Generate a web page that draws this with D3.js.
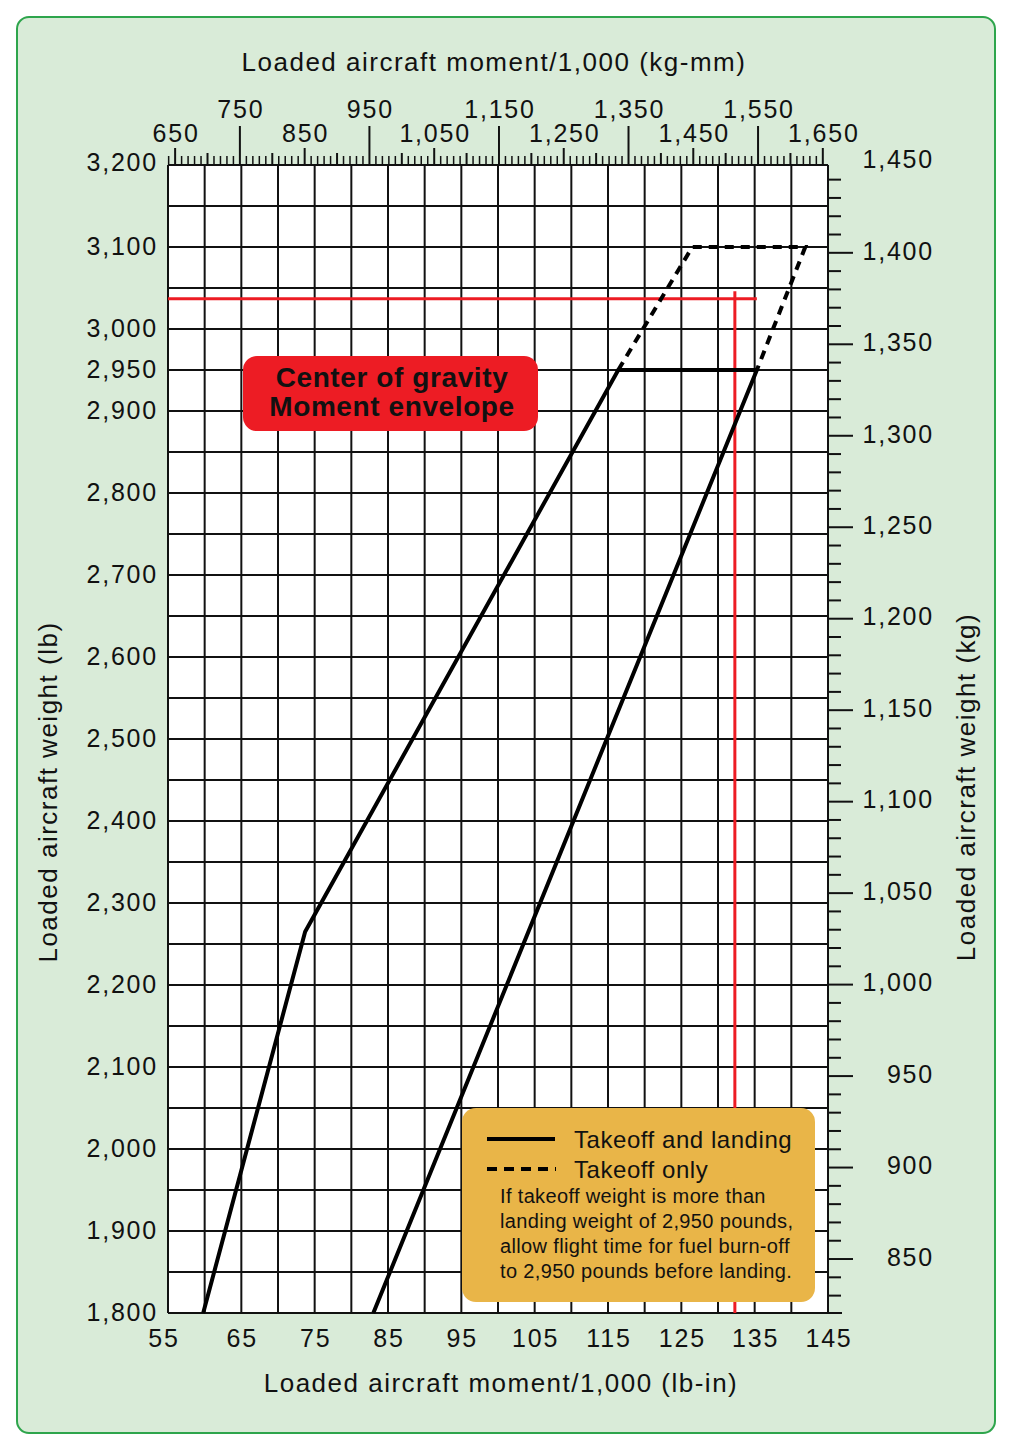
<!DOCTYPE html>
<html>
<head>
<meta charset="utf-8">
<script src="https://cdn.jsdelivr.net/npm/d3@7"></script>
<style>
  body { margin: 0; background: #fff; }
  text { font-family: "Liberation Sans", Arial, sans-serif; fill: #111; }
  .tick-label { font-size: 25px; letter-spacing: 1.8px; }
  .axis-title { font-size: 26px; letter-spacing: 1.5px; }
</style>
</head>
<body>
<div id="chart_div"></div>
<script>
// values
const lbInTicks = [55, 65, 75, 85, 95, 105, 115, 125, 135, 145];
const lbTicks = [1800, 1900, 2000, 2100, 2200, 2300, 2400, 2500, 2600, 2700, 2800, 2900, 2950, 3000, 3100, 3200];
const kgTicks = [850, 900, 950, 1000, 1050, 1100, 1150, 1200, 1250, 1300, 1350, 1400, 1450];
const kgMmLower = [650, 850, 1050, 1250, 1450, 1650];
const kgMmUpper = [750, 950, 1150, 1350, 1550];

// envelope corners [moment lb-in/1000, weight lb]
const takeoffLanding = [[59.8, 1800], [73.7, 2265], [116.4, 2950], [135.3, 2950], [83, 1800]];
const takeoffOnly = [[116.4, 2950], [126.5, 3100], [141.9, 3100], [135.3, 2950]];

// worked example (red lines)
const exampleWeight = 3037;
const exampleMoment = 132.3;

const noteLines = [
    "If takeoff weight is more than",
    "landing weight of 2,950 pounds,",
    "allow flight time for fuel burn-off",
    "to 2,950 pounds before landing."
];

const svgWidth = 1012;
const svgHeight = 1451;
const plot = {left: 168, right: 828, top: 165, bottom: 1313};

const svg = d3.select("#chart_div")
    .append("svg")
    .attr("width", svgWidth)
    .attr("height", svgHeight);

// panel background
svg.append("rect")
    .attr("x", 17).attr("y", 17)
    .attr("width", 978).attr("height", 1416)
    .attr("rx", 12)
    .attr("fill", "#d9ebd8")
    .attr("stroke", "#2ea54c")
    .attr("stroke-width", 2);

let xScale = d3.scaleLinear().domain([55, 145]).range([plot.left, plot.right]);
let yScale = d3.scaleLinear().domain([1800, 3200]).range([plot.bottom, plot.top]);
// secondary (metric) scales, matched to where the chart puts them
let kgMmScale = d3.scaleLinear().domain([639, 1658]).range([plot.left, plot.right]);
let kgScale = d3.scaleLinear().domain([820.5, 1448]).range([plot.bottom, plot.top]);

svg.append("rect")
    .attr("x", plot.left).attr("y", plot.top)
    .attr("width", plot.right - plot.left)
    .attr("height", plot.bottom - plot.top)
    .attr("fill", "#fff");

// grid
const grid = svg.append("g").attr("stroke", "#111").attr("stroke-width", 2);
grid.selectAll(".vgrid")
    .data(d3.range(55, 145.1, 5))
    .join("line")
    .attr("x1", d => xScale(d)).attr("x2", d => xScale(d))
    .attr("y1", plot.top).attr("y2", plot.bottom);
grid.selectAll(".hgrid")
    .data(d3.range(1800, 3200.1, 50))
    .join("line")
    .attr("x1", plot.left).attr("x2", plot.right)
    .attr("y1", d => yScale(d)).attr("y2", d => yScale(d));
// bottom axis line runs a little past the plot
grid.append("line")
    .attr("x1", plot.left).attr("x2", plot.right + 14)
    .attr("y1", plot.bottom).attr("y2", plot.bottom);

// top axis (kg-mm)
const topAxis = svg.append("g").attr("stroke", "#111").attr("stroke-width", 1.5);
topAxis.selectAll("line")
    .data(d3.range(640, 1651, 10))
    .join("line")
    .attr("x1", d => kgMmScale(d)).attr("x2", d => kgMmScale(d))
    .attr("y1", plot.top)
    .attr("y2", d => {
        if (kgMmUpper.includes(d)) return 126;
        if (kgMmLower.includes(d)) return 148;
        if (d % 50 === 0) return 153;
        return 156;
    })
    .attr("stroke-width", d => (d % 50 === 0 ? 2 : 1.5));

svg.append("g").selectAll("text")
    .data(kgMmLower)
    .join("text")
    .attr("class", "tick-label")
    .attr("x", d => kgMmScale(d) + 1)
    .attr("y", 142)
    .attr("text-anchor", "middle")
    .text(d => d3.format(",")(d));
svg.append("g").selectAll("text")
    .data(kgMmUpper)
    .join("text")
    .attr("class", "tick-label")
    .attr("x", d => kgMmScale(d) + 1)
    .attr("y", 118)
    .attr("text-anchor", "middle")
    .text(d => d3.format(",")(d));

// right axis (kg)
const rightAxis = svg.append("g").attr("stroke", "#111").attr("stroke-width", 2);
rightAxis.append("line")
    .attr("x1", plot.right).attr("x2", plot.right)
    .attr("y1", plot.top).attr("y2", plot.bottom);
rightAxis.selectAll(".kgtick")
    .data(d3.range(830, 1441, 10))
    .join("line")
    .attr("x1", plot.right)
    .attr("x2", d => plot.right + (d % 50 === 0 ? 25 : 13))
    .attr("y1", d => kgScale(d)).attr("y2", d => kgScale(d));

svg.append("g").selectAll("text")
    .data(kgTicks)
    .join("text")
    .attr("class", "tick-label")
    .attr("x", 934)
    .attr("y", d => Math.max(kgScale(d), 157) - 2)
    .attr("dy", "0.35em")
    .attr("text-anchor", "end")
    .text(d => d3.format(",")(d));

// left labels (lb)
svg.append("g").selectAll("text")
    .data(lbTicks)
    .join("text")
    .attr("class", "tick-label")
    .attr("x", 158)
    .attr("y", d => yScale(d) - (d === 3200 ? 3 : 1))
    .attr("dy", "0.35em")
    .attr("text-anchor", "end")
    .text(d => d3.format(",")(d));

// bottom labels (lb-in)
svg.append("g").selectAll("text")
    .data(lbInTicks)
    .join("text")
    .attr("class", "tick-label")
    .attr("x", d => xScale(d) - (d === 55 ? 5 : 0) + 1)
    .attr("y", 1347)
    .attr("text-anchor", "middle")
    .text(d => d);

// axis titles
svg.append("text")
    .attr("class", "axis-title")
    .attr("x", 494).attr("y", 71)
    .attr("text-anchor", "middle")
    .text("Loaded aircraft moment/1,000 (kg-mm)");
svg.append("text")
    .attr("class", "axis-title")
    .attr("x", 501).attr("y", 1392)
    .attr("text-anchor", "middle")
    .text("Loaded aircraft moment/1,000 (lb-in)");
svg.append("text")
    .attr("class", "axis-title")
    .attr("transform", "translate(57, 792) rotate(-90)")
    .attr("text-anchor", "middle")
    .text("Loaded aircraft weight (lb)");
svg.append("text")
    .attr("class", "axis-title")
    .attr("transform", "translate(975, 787) rotate(-90)")
    .attr("text-anchor", "middle")
    .text("Loaded aircraft weight (kg)");

// example lines
svg.append("line")
    .attr("x1", plot.left).attr("x2", xScale(135.3))
    .attr("y1", yScale(exampleWeight)).attr("y2", yScale(exampleWeight))
    .attr("stroke", "#ed1c24").attr("stroke-width", 3);
svg.append("line")
    .attr("x1", xScale(exampleMoment)).attr("x2", xScale(exampleMoment))
    .attr("y1", yScale(exampleWeight + 9)).attr("y2", plot.bottom)
    .attr("stroke", "#ed1c24").attr("stroke-width", 3);

// envelope
let envLine = d3.line()
    .x(d => xScale(d[0]))
    .y(d => yScale(d[1]));

svg.append("path")
    .datum(takeoffLanding)
    .attr("fill", "none")
    .attr("stroke", "#000")
    .attr("stroke-width", 4)
    .attr("stroke-linejoin", "round")
    .attr("d", envLine);
svg.append("path")
    .datum(takeoffOnly)
    .attr("fill", "none")
    .attr("stroke", "#000")
    .attr("stroke-width", 4)
    .attr("stroke-dasharray", "9,7")
    .attr("d", envLine);

// title box
svg.append("rect")
    .attr("x", 243).attr("y", 356)
    .attr("width", 295).attr("height", 75)
    .attr("rx", 14)
    .attr("fill", "#ed1c24");
svg.append("text")
    .attr("x", 392).attr("y", 387)
    .attr("text-anchor", "middle")
    .attr("font-size", 28)
    .attr("font-weight", "bold")
    .attr("letter-spacing", 0.6)
    .text("Center of gravity");
svg.append("text")
    .attr("x", 392).attr("y", 416)
    .attr("text-anchor", "middle")
    .attr("font-size", 28)
    .attr("font-weight", "bold")
    .attr("letter-spacing", 0.6)
    .text("Moment envelope");

// legend
const legend = svg.append("g");
legend.append("rect")
    .attr("x", 462).attr("y", 1108)
    .attr("width", 353).attr("height", 194)
    .attr("rx", 14)
    .attr("fill", "#e9b548");
legend.append("line")
    .attr("x1", 487).attr("x2", 555)
    .attr("y1", 1139).attr("y2", 1139)
    .attr("stroke", "#000").attr("stroke-width", 4);
legend.append("line")
    .attr("x1", 487).attr("x2", 556)
    .attr("y1", 1169).attr("y2", 1169)
    .attr("stroke", "#000").attr("stroke-width", 4)
    .attr("stroke-dasharray", "10,7");
legend.append("text")
    .attr("x", 574).attr("y", 1148)
    .attr("font-size", 24)
    .attr("letter-spacing", 0.55)
    .text("Takeoff and landing");
legend.append("text")
    .attr("x", 574).attr("y", 1178)
    .attr("font-size", 24)
    .attr("letter-spacing", 0.55)
    .text("Takeoff only");
legend.selectAll(".note")
    .data(noteLines)
    .join("text")
    .attr("x", 500)
    .attr("y", (d, i) => 1203 + i * 25)
    .attr("font-size", 20)
    .attr("letter-spacing", 0.35)
    .text(d => d);
</script>
</body>
</html>
